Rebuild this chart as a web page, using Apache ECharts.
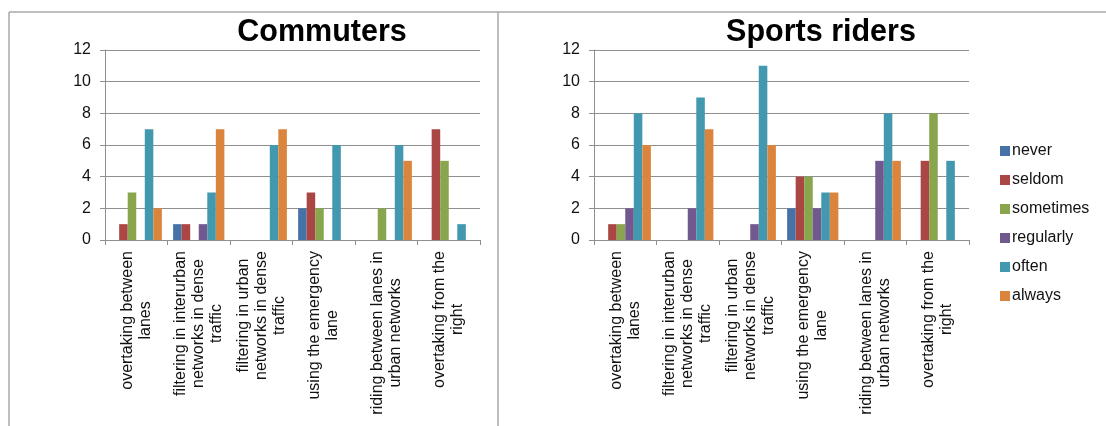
<!DOCTYPE html>
<html>
<head>
<meta charset="utf-8">
<style>
  html, body { margin: 0; padding: 0; background: #ffffff; }
  #chart { width: 1106px; height: 426px; }
</style>
<script src="https://cdn.jsdelivr.net/npm/echarts@6/dist/echarts.min.js"></script>
</head>
<body>
<div id="chart"></div>
<script>
// Manoeuvres asked about in the survey (line breaks as wrapped under the axis)
const categories = [
  'overtaking between\nlanes',
  'filtering in interurban\nnetworks in dense\ntraffic',
  'filtering in urban\nnetworks in dense\ntraffic',
  'using the emergency\nlane',
  'riding between lanes in\nurban networks',
  'overtaking from the\nright'
];

// Frequency answers (legend order)
const frequencies = ['never', 'seldom', 'sometimes', 'regularly', 'often', 'always'];

// Number of respondents per frequency, one value per manoeuvre
const commutersNever     = [0, 1, 0, 2, 0, 0];
const commutersSeldom    = [1, 1, 0, 3, 0, 7];
const commutersSometimes = [3, 0, 0, 2, 2, 5];
const commutersRegularly = [0, 1, 0, 0, 0, 0];
const commutersOften     = [7, 3, 6, 6, 6, 1];
const commutersAlways    = [2, 7, 7, 0, 5, 0];

const sportsNever     = [0, 0, 0, 2, 0, 0];
const sportsSeldom    = [1, 0, 0, 4, 0, 5];
const sportsSometimes = [1, 0, 0, 4, 0, 8];
const sportsRegularly = [2, 2, 1, 2, 5, 0];
const sportsOften     = [8, 9, 11, 3, 8, 5];
const sportsAlways    = [6, 7, 6, 3, 5, 0];

// Value axis ticks
const yTicks = [0, 2, 4, 6, 8, 10, 12];

const titles = ['Commuters', 'Sports riders'];

const palette = ['#4572A7', '#AA4643', '#89A54E', '#71588F', '#4198AF', '#DB843D'];
const FONT = "'Liberation Sans', Arial, sans-serif";
const GRID_GRAY = '#8f8f8f';

const commutersData = [commutersNever, commutersSeldom, commutersSometimes,
                       commutersRegularly, commutersOften, commutersAlways];
const sportsData = [sportsNever, sportsSeldom, sportsSometimes,
                    sportsRegularly, sportsOften, sportsAlways];

function categoryAxis(gridIndex) {
  return {
    type: 'category',
    gridIndex: gridIndex,
    data: categories,
    axisLine: { lineStyle: { color: GRID_GRAY, width: 1 } },
    axisTick: { show: true, interval: 0, length: 5, lineStyle: { color: GRID_GRAY } },
    axisLabel: {
      interval: 0,
      rotate: 90,
      margin: 11,
      formatter: function (v) {
        return v.split('\n').map(function (s) { return '{c|' + s + '}'; }).join('\n');
      },
      rich: {
        c: { align: 'center', fontSize: 16, lineHeight: 18, fontFamily: FONT, color: '#111' }
      }
    }
  };
}

function valueAxis(gridIndex) {
  return {
    type: 'value',
    gridIndex: gridIndex,
    min: yTicks[0],
    max: yTicks[yTicks.length - 1],
    interval: yTicks[1] - yTicks[0],
    axisLine: { show: true, lineStyle: { color: GRID_GRAY, width: 1 } },
    axisTick: { show: true, length: 5, lineStyle: { color: GRID_GRAY } },
    axisLabel: { fontSize: 16, fontFamily: FONT, color: '#111', margin: 14 },
    splitLine: { show: true, lineStyle: { color: GRID_GRAY, width: 1 } }
  };
}

function barSeries(dataSets, axisIndex) {
  return frequencies.map(function (name, i) {
    return {
      name: name,
      type: 'bar',
      xAxisIndex: axisIndex,
      yAxisIndex: axisIndex,
      data: dataSets[i],
      barGap: '0%',
      barCategoryGap: '18%',
      itemStyle: { color: palette[i] },
      emphasis: { disabled: true }
    };
  });
}

const chart = echarts.init(document.getElementById('chart'), null, { renderer: 'canvas' });

chart.setOption({
  animation: false,
  backgroundColor: '#ffffff',
  color: palette,
  title: [
    { text: titles[0], left: 317, top: 12, textAlign: 'center',
      textStyle: { fontSize: 30.5, fontWeight: 'bold', fontFamily: FONT, color: '#000' } },
    { text: titles[1], left: 816, top: 12, textAlign: 'center',
      textStyle: { fontSize: 30.5, fontWeight: 'bold', fontFamily: FONT, color: '#000' } }
  ],
  legend: {
    orient: 'vertical',
    left: 1000,
    top: 143,
    padding: 0,
    itemWidth: 10,
    itemHeight: 10,
    itemGap: 13,
    icon: 'rect',
    data: frequencies,
    textStyle: { fontSize: 16, lineHeight: 16, fontFamily: FONT, color: '#111', padding: [0, 0, 0, -3] }
  },
  grid: [
    { left: 105, right: 626, top: 50, bottom: 186 },
    { left: 594, right: 137, top: 50, bottom: 186 }
  ],
  xAxis: [categoryAxis(0), categoryAxis(1)],
  yAxis: [valueAxis(0), valueAxis(1)],
  series: barSeries(commutersData, 0).concat(barSeries(sportsData, 1)),
  graphic: [
    // panel frame: top edge, left edge and the divider between the two charts
    { type: 'line', silent: true, shape: { x1: 9, y1: 12, x2: 1106, y2: 12 },
      style: { stroke: '#a8a8a8', lineWidth: 1.5 } },
    { type: 'line', silent: true, shape: { x1: 9, y1: 12, x2: 9, y2: 426 },
      style: { stroke: '#a8a8a8', lineWidth: 1.5 } },
    { type: 'line', silent: true, shape: { x1: 498, y1: 12, x2: 498, y2: 426 },
      style: { stroke: '#a8a8a8', lineWidth: 1.5 } }
  ]
});
</script>
</body>
</html>
